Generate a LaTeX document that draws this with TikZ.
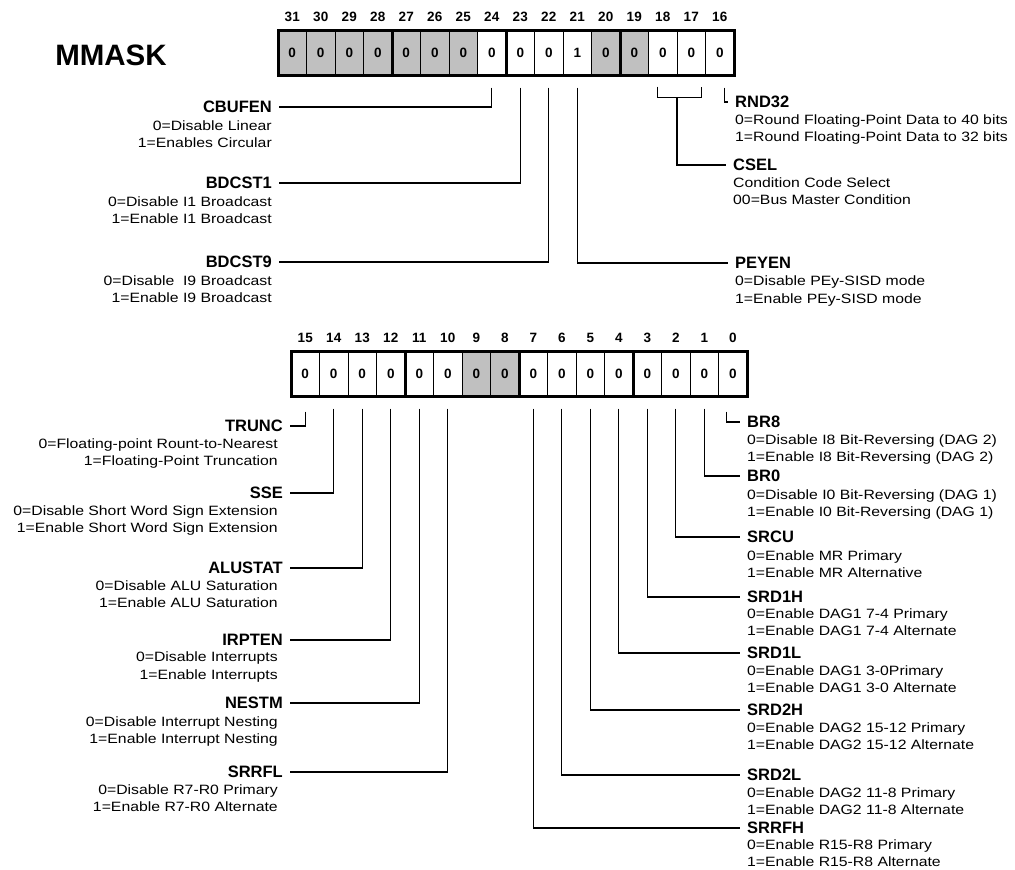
\documentclass[tikz,border=0pt]{standalone}
\usepackage{fontspec}
\setmainfont{Liberation Sans}
\newfontfamily\descfont{Liberation Sans}[FakeStretch=1.17]
\usepackage{tikz}
\usetikzlibrary{positioning}
\definecolor{regGray}{RGB}{192,192,192}

\begin{document}
\begin{tikzpicture}[
  x=1pt, y=-1pt,
  cell/.style={draw, line width=1pt, minimum width=28.5pt, minimum height=45pt,
    inner sep=0pt, outer sep=0pt, font=\bfseries\fontsize{13.5}{16}\selectfont},
  rsv/.style={cell, fill=regGray},
  every label/.style={font=\bfseries\fontsize{13.5}{16}\selectfont, inner sep=0pt},
  label distance=9pt,
  ttl/.style={font=\bfseries\fontsize{16.5}{19}\selectfont, inner xsep=7pt, inner ysep=0pt},
  desc/.style={font=\descfont\fontsize{13.5}{17.5}\selectfont, inner xsep=7pt, inner ysep=0pt},
  wire/.style={line width=1.3pt},
  lead/.style={wire, shorten <=12pt},
  frame/.style={line width=3pt}
]
\useasboundingbox (0,0) rectangle (1015,870);

\node[font=\bfseries\fontsize{29.5}{32}\selectfont] (mmask) at (111,55) {MMASK};

% bits 31-16
\node[rsv, label=above:31] (b31) at (292.25,53) {0};
\node[rsv, label=above:30, right=0pt of b31] (b30) {0};
\node[rsv, label=above:29, right=0pt of b30] (b29) {0};
\node[rsv, label=above:28, right=0pt of b29] (b28) {0};
\node[rsv, label=above:27, right=0pt of b28] (b27) {0};
\node[rsv, label=above:26, right=0pt of b27] (b26) {0};
\node[rsv, label=above:25, right=0pt of b26] (b25) {0};
\node[cell, label=above:24, right=0pt of b25] (b24) {0};
\node[cell, label=above:23, right=0pt of b24] (b23) {0};
\node[cell, label=above:22, right=0pt of b23] (b22) {0};
\node[cell, label=above:21, right=0pt of b22] (b21) {1};
\node[rsv, label=above:20, right=0pt of b21] (b20) {0};
\node[rsv, label=above:19, right=0pt of b20] (b19) {0};
\node[cell, label=above:18, right=0pt of b19] (b18) {0};
\node[cell, label=above:17, right=0pt of b18] (b17) {0};
\node[cell, label=above:16, right=0pt of b17] (b16) {0};
\draw[frame] (b31.north west) rectangle (b16.south east);
\draw[frame] (b28.north east) -- (b28.south east);
\draw[frame] (b24.north east) -- (b24.south east);
\draw[frame] (b20.north east) -- (b20.south east);

% bits 15-0
\node[cell, label=above:15] (b15) at (305.25,374) {0};
\node[cell, label=above:14, right=0pt of b15] (b14) {0};
\node[cell, label=above:13, right=0pt of b14] (b13) {0};
\node[cell, label=above:12, right=0pt of b13] (b12) {0};
\node[cell, label=above:11, right=0pt of b12] (b11) {0};
\node[cell, label=above:10, right=0pt of b11] (b10) {0};
\node[rsv, label=above:9, right=0pt of b10] (b9) {0};
\node[rsv, label=above:8, right=0pt of b9] (b8) {0};
\node[cell, label=above:7, right=0pt of b8] (b7) {0};
\node[cell, label=above:6, right=0pt of b7] (b6) {0};
\node[cell, label=above:5, right=0pt of b6] (b5) {0};
\node[cell, label=above:4, right=0pt of b5] (b4) {0};
\node[cell, label=above:3, right=0pt of b4] (b3) {0};
\node[cell, label=above:2, right=0pt of b3] (b2) {0};
\node[cell, label=above:1, right=0pt of b2] (b1) {0};
\node[cell, label=above:0, right=0pt of b1] (b0) {0};
\draw[frame] (b15.north west) rectangle (b0.south east);
\draw[frame] (b12.north east) -- (b12.south east);
\draw[frame] (b8.north east) -- (b8.south east);
\draw[frame] (b4.north east) -- (b4.south east);

% upper fields
\node[ttl, anchor=east] (cbufen) at (279,107) {CBUFEN};
\node[desc, align=right, anchor=north east] (cbufen-txt) at ([yshift=-7pt]cbufen.south east) {0=Disable Linear\\1=Enables Circular};
\node[ttl, anchor=east] (bdcst1) at (279,183) {BDCST1};
\node[desc, align=right, anchor=north east] (bdcst1-txt) at ([yshift=-7pt]bdcst1.south east) {0=Disable I1 Broadcast\\1=Enable I1 Broadcast};
\node[ttl, anchor=east] (bdcst9) at (279,262) {BDCST9};
\node[desc, align=right, anchor=north east] (bdcst9-txt) at ([yshift=-7pt]bdcst9.south east) {0=Disable\ \ I9 Broadcast\\1=Enable I9 Broadcast};
\node[ttl, anchor=west] (rnd32) at (728,102) {RND32};
\node[desc, align=left, anchor=north west] (rnd32-txt) at ([yshift=-6pt]rnd32.south west) {0=Round Floating-Point Data to 40 bits\\1=Round Floating-Point Data to 32 bits};
\node[ttl, anchor=west] (csel) at (726,165) {CSEL};
\node[desc, align=left, anchor=north west] (csel-txt) at ([yshift=-6pt]csel.south west) {Condition Code Select\\00=Bus Master Condition};
\node[ttl, anchor=west] (peyen) at (728,263) {PEYEN};
\node[desc, align=left, anchor=north west] (peyen-txt) at ([yshift=-7pt]peyen.south west) {0=Disable PEy-SISD mode\\1=Enable PEy-SISD mode};

\draw[lead] (b24.south) |- (cbufen.east);
\draw[lead] (b23.south) |- (bdcst1.east);
\draw[lead] (b22.south) |- (bdcst9.east);
\draw[lead] (b21.south) |- (peyen.west);
\draw[wire] ([xshift=-5pt, yshift=-11pt]b18.south) |- ([xshift=10pt, yshift=-22pt]b17.south) -- ([xshift=10pt, yshift=-11pt]b17.south);
\draw[wire] ([yshift=-22pt]b18.south east) |- (csel.west);
\draw[lead] ([xshift=5pt]b16.south) |- (rnd32.west);

% lower fields, left
\node[ttl, anchor=east] (trunc) at (290,426) {TRUNC};
\node[desc, align=right, anchor=north east] (trunc-txt) at ([xshift=-5pt, yshift=-6pt]trunc.south east) {0=Floating-point Rount-to-Nearest\\1=Floating-Point Truncation};
\node[ttl, anchor=east] (sse) at (290,493) {SSE};
\node[desc, align=right, anchor=north east] (sse-txt) at ([xshift=-5pt, yshift=-6pt]sse.south east) {0=Disable Short Word Sign Extension\\1=Enable Short Word Sign Extension};
\node[ttl, anchor=east] (alustat) at (290,568) {ALUSTAT};
\node[desc, align=right, anchor=north east] (alustat-txt) at ([xshift=-5pt, yshift=-6pt]alustat.south east) {0=Disable ALU Saturation\\1=Enable ALU Saturation};
\node[ttl, anchor=east] (irpten) at (290,640) {IRPTEN};
\node[desc, align=right, anchor=north east] (irpten-txt) at ([xshift=-5pt, yshift=-6pt]irpten.south east) {0=Disable Interrupts\\1=Enable Interrupts};
\node[ttl, anchor=east] (nestm) at (290,703) {NESTM};
\node[desc, align=right, anchor=north east] (nestm-txt) at ([xshift=-5pt, yshift=-7pt]nestm.south east) {0=Disable Interrupt Nesting\\1=Enable Interrupt Nesting};
\node[ttl, anchor=east] (srrfl) at (290,772) {SRRFL};
\node[desc, align=right, anchor=north east] (srrfl-txt) at ([xshift=-5pt, yshift=-6pt]srrfl.south east) {0=Disable R7-R0 Primary\\1=Enable R7-R0 Alternate};

% lower fields, right
\node[ttl, anchor=west] (br8) at (740,422) {BR8};
\node[desc, align=left, anchor=north west] (br8-txt) at ([yshift=-6pt]br8.south west) {0=Disable I8 Bit-Reversing (DAG 2)\\1=Enable I8 Bit-Reversing (DAG 2)};
\node[ttl, anchor=west] (br0) at (740,476) {BR0};
\node[desc, align=left, anchor=north west] (br0-txt) at ([yshift=-7pt]br0.south west) {0=Disable I0 Bit-Reversing (DAG 1)\\1=Enable I0 Bit-Reversing (DAG 1)};
\node[ttl, anchor=west] (srcu) at (740,537) {SRCU};
\node[desc, align=left, anchor=north west] (srcu-txt) at ([yshift=-7pt]srcu.south west) {0=Enable MR Primary\\1=Enable MR Alternative};
\node[ttl, anchor=west] (srd1h) at (740,597) {SRD1H};
\node[desc, align=left, anchor=north west] (srd1h-txt) at ([yshift=-5pt]srd1h.south west) {0=Enable DAG1 7-4 Primary\\1=Enable DAG1 7-4 Alternate};
\node[ttl, anchor=west] (srd1l) at (740,653) {SRD1L};
\node[desc, align=left, anchor=north west] (srd1l-txt) at ([yshift=-6pt]srd1l.south west) {0=Enable DAG1 3-0Primary\\1=Enable DAG1 3-0 Alternate};
\node[ttl, anchor=west] (srd2h) at (740,710) {SRD2H};
\node[desc, align=left, anchor=north west] (srd2h-txt) at ([yshift=-6pt]srd2h.south west) {0=Enable DAG2 15-12 Primary\\1=Enable DAG2 15-12 Alternate};
\node[ttl, anchor=west] (srd2l) at (740,775) {SRD2L};
\node[desc, align=left, anchor=north west] (srd2l-txt) at ([yshift=-6pt]srd2l.south west) {0=Enable DAG2 11-8 Primary\\1=Enable DAG2 11-8 Alternate};
\node[ttl, anchor=west] (srrfh) at (740,828) {SRRFH};
\node[desc, align=left, anchor=north west] (srrfh-txt) at ([yshift=-5pt]srrfh.south west) {0=Enable R15-R8 Primary\\1=Enable R15-R8 Alternate};

\draw[wire, shorten <=15pt] (b15.south) |- (trunc.east);
\draw[lead] (b14.south) |- (sse.east);
\draw[lead] (b13.south) |- (alustat.east);
\draw[lead] (b12.south) |- (irpten.east);
\draw[lead] (b11.south) |- (nestm.east);
\draw[lead] (b10.south) |- (srrfl.east);
\draw[wire, shorten <=15pt] ([xshift=-6pt]b0.south) |- (br8.west);
\draw[lead] (b1.south) |- (br0.west);
\draw[lead] (b2.south) |- (srcu.west);
\draw[lead] (b3.south) |- (srd1h.west);
\draw[lead] (b4.south) |- (srd1l.west);
\draw[lead] (b5.south) |- (srd2h.west);
\draw[lead] (b6.south) |- (srd2l.west);
\draw[lead] (b7.south) |- (srrfh.west);
\end{tikzpicture}
\end{document}
